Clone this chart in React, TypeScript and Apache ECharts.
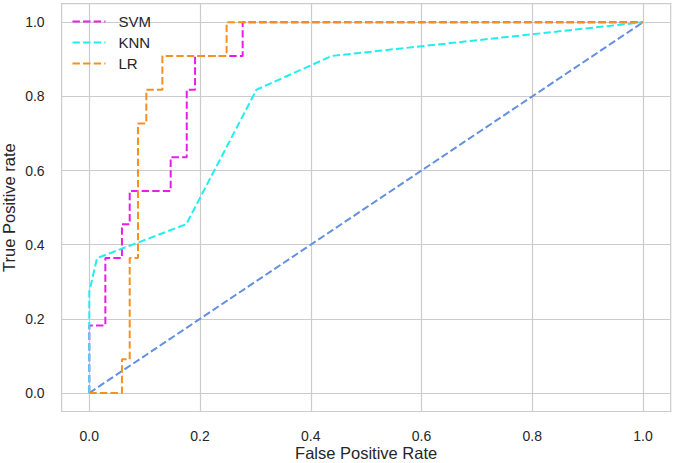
import React, { useEffect, useRef } from "react";
import * as echarts from "echarts";

const axisTicks = [0, 0.2, 0.4, 0.6, 0.8, 1.0];

const svmFpr = [0, 0, 0.029, 0.029, 0.059, 0.059, 0.073, 0.073, 0.147, 0.147, 0.176, 0.176, 0.191, 0.191, 0.277, 0.277, 1];
const svmTpr = [0, 0.182, 0.182, 0.364, 0.364, 0.455, 0.455, 0.545, 0.545, 0.636, 0.636, 0.818, 0.818, 0.909, 0.909, 1, 1];

const knnFpr = [0, 0, 0.014, 0.175, 0.302, 0.438, 1];
const knnTpr = [0, 0.273, 0.364, 0.455, 0.818, 0.909, 1];

const lrFpr = [0, 0.059, 0.059, 0.073, 0.073, 0.088, 0.088, 0.103, 0.103, 0.132, 0.132, 0.248, 0.248, 1];
const lrTpr = [0, 0, 0.091, 0.091, 0.364, 0.364, 0.727, 0.727, 0.818, 0.818, 0.909, 0.909, 1, 1];

const chanceFpr = [0, 1];
const chanceTpr = [0, 1];

const zip = (xs: number[], ys: number[]) => xs.map((x, i) => [x, ys[i]]);

const FONT = "Liberation Sans, Arial, Helvetica, sans-serif";
const TEXT = "#262626";
const GRID = "#cccccc";
const DASH = [7.4, 3.2];

export default function App() {
  const ref = useRef<HTMLDivElement>(null);
  useEffect(() => {
    document.body.style.margin = "0";
    if (!ref.current) return;
    const chart = echarts.init(ref.current, undefined, { renderer: "svg" });
    const mkSeries = (name: string, xs: number[], ys: number[], color: string) => ({
      name,
      type: "line",
      data: zip(xs, ys),
      showSymbol: false,
      symbol: "none",
      lineStyle: { color, width: 2, type: DASH },
      itemStyle: { color },
      z: 3,
    });
    const valueAxis = (name: string, nameGap: number) => ({
      type: "value",
      min: -0.05,
      max: 1.05,
      name,
      nameLocation: "middle",
      nameGap,
      nameMoveOverlap: false,
      nameTextStyle: { color: TEXT, fontSize: 16.5, fontFamily: FONT },
      axisLine: { show: false },
      axisTick: { show: false, customValues: axisTicks },
      axisLabel: {
        customValues: axisTicks,
        color: TEXT,
        fontSize: 14,
        fontFamily: FONT,
        margin: 17,
        formatter: (v: number) => v.toFixed(1),
      },
      splitLine: { show: true, lineStyle: { color: GRID, width: 1.2 } },
    });
    chart.setOption({
      animation: false,
      backgroundColor: "#ffffff",
      grid: {
        left: 61.6,
        right: 3.3,
        top: 3.7,
        bottom: 51.5,
        show: true,
        borderColor: GRID,
        borderWidth: 1.2,
        containLabel: false,
        outerBoundsMode: "none",
      },
      legend: {
        data: ["SVM", "KNN", "LR"],
        orient: "vertical",
        left: 71.5,
        top: 14,
        padding: 0,
        itemWidth: 33,
        itemHeight: 15,
        itemGap: 6,
        itemStyle: { opacity: 0 },
        formatter: "{t|{name}}",
        textStyle: {
          color: TEXT,
          fontSize: 15,
          fontFamily: FONT,
          rich: { t: { fontSize: 15, fontFamily: FONT, color: TEXT, padding: [0, 0, 0, 8] } },
        },
      },
      xAxis: valueAxis("False Positive Rate", 33),
      yAxis: valueAxis("True Positive rate", 44),
      series: [
        {
          name: "chance",
          type: "line",
          data: zip(chanceFpr, chanceTpr),
          showSymbol: false,
          symbol: "none",
          lineStyle: { color: "#6390e0", width: 2, type: DASH },
          z: 2,
        },
        mkSeries("SVM", svmFpr, svmTpr, "#e81ee8"),
        mkSeries("KNN", knnFpr, knnTpr, "#22eeee"),
        mkSeries("LR", lrFpr, lrTpr, "#f7901e"),
      ],
    });
    return () => chart.dispose();
  }, []);
  return <div ref={ref} style={{ width: 674, height: 463 }} />;
}
